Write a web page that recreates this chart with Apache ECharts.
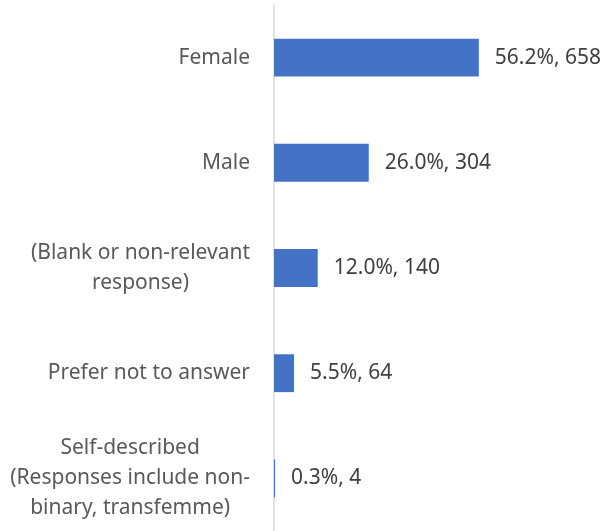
<!DOCTYPE html>
<html>
<head>
<meta charset="utf-8">
<style>
  html, body { margin: 0; padding: 0; background: #fff; }
  #chart { width: 605px; height: 531px; }
</style>
<script src="https://cdn.jsdelivr.net/npm/echarts@6/dist/echarts.min.js"></script>
</head>
<body>
<div id="chart"></div>
<script>
// gender breakdown, top to bottom
const categories = [
  'Female',
  'Male',
  '(Blank or non-relevant\nresponse)',
  'Prefer not to answer',
  'Self-described\n(Responses include non-\nbinary, transfemme)'
]
const percents = [56.2, 26.0, 12.0, 5.5, 0.3]
const counts = [658, 304, 140, 64, 4]

const chart = echarts.init(document.getElementById('chart'))
chart.setOption({
  animation: false,
  textStyle: { fontFamily: '"Noto Sans", sans-serif' },
  grid: { left: 274, right: 3, top: 5, height: 530 },
  xAxis: {
    type: 'value',
    min: 0,
    max: 90,
    show: false
  },
  yAxis: {
    type: 'category',
    inverse: true,
    data: categories,
    axisLine: { show: true, lineStyle: { color: '#d9d9d9', width: 1.5 } },
    axisTick: { show: false },
    axisLabel: {
      margin: 24,
      align: 'right',
      // center each line inside the label block, like the original
      formatter: v => v.split('\n').map(s => '{c|' + s + '}').join('\n'),
      rich: {
        c: { align: 'center', color: '#595959', fontSize: 21, lineHeight: 30 }
      }
    }
  },
  series: [{
    type: 'bar',
    data: percents,
    barWidth: '36%',
    itemStyle: { color: '#4472c4' },
    label: {
      show: true,
      position: 'right',
      distance: 16,
      color: '#404040',
      fontSize: 21,
      formatter: p => p.value.toFixed(1) + '%, ' + counts[p.dataIndex]
    }
  }]
})
</script>
</body>
</html>
